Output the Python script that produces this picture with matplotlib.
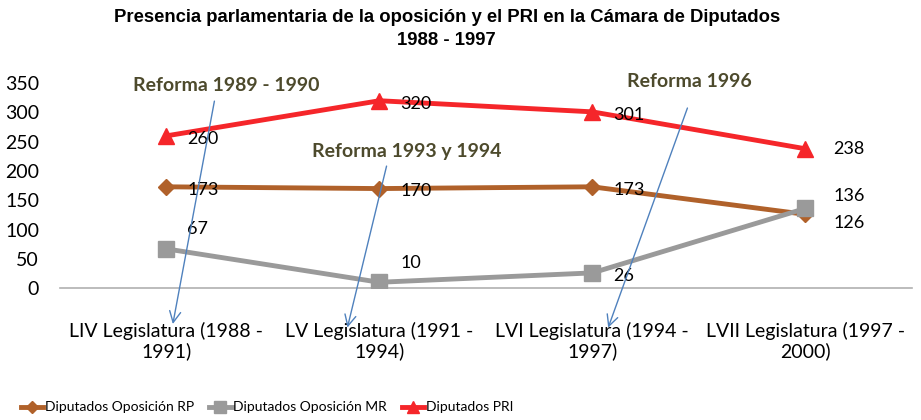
import matplotlib
matplotlib.use("Agg")
import matplotlib.pyplot as plt

categories = ["LIV Legislatura (1988 -\n1991)", "LV Legislatura (1991 -\n1994)",
              "LVI Legislatura (1994 -\n1997)", "LVII Legislatura (1997 -\n2000)"]
rp = [173, 170, 173, 126]
mr = [67, 10, 26, 136]
pri = [260, 320, 301, 238]
yticks = [0, 50, 100, 150, 200, 250, 300, 350]

plt.rcParams['font.family'] = ['Lato', 'DejaVu Sans']

fig = plt.figure(figsize=(9.21, 4.2), dpi=100)
ax = fig.add_axes([0.065, 0.314, 0.925, 0.488])
x = list(range(len(categories)))

c_rp = '#B0612A'
c_mr = '#9A9A9A'
c_pri = '#F5262A'
ax.plot(x, rp, color=c_rp, lw=3.5, marker='D', ms=8, label='Diputados Oposición RP', zorder=3)
ax.plot(x, mr, color=c_mr, lw=3.5, marker='s', ms=11, label='Diputados Oposición MR', zorder=3)
ax.plot(x, pri, color=c_pri, lw=3.5, marker='^', ms=11, label='Diputados PRI', zorder=3)

ax.set_xlim(-0.5, 3.5)
ax.set_ylim(0, 350)
ax.set_yticks(yticks)
ax.set_xticks(x)
ax.set_xticklabels(categories, fontsize=14, linespacing=1.2)
ax.tick_params(axis='y', length=0, labelsize=14, pad=15)
ax.tick_params(axis='x', length=0, pad=24)
for s in ['top', 'right', 'left']:
    ax.spines[s].set_visible(False)
ax.spines['bottom'].set_color('#B0B0B0')
ax.spines['bottom'].set_linewidth(1.2)

# data labels
lab_kw = dict(textcoords='offset points', fontsize=13, va='center', ha='left', zorder=4)
pri_off = [(15, -2), (15, -2), (15, -2), (20, 0)]
rp_off = [(15, -2), (15, -2), (15, -2), (20, -6)]
mr_off = [(15, 14), (15, 14), (15, -2), (20, 9)]
for i, v in enumerate(pri):
    ax.annotate(str(v), (i, v), xytext=pri_off[i], **lab_kw)
for i, v in enumerate(rp):
    ax.annotate(str(v), (i, v), xytext=rp_off[i], **lab_kw)
for i, v in enumerate(mr):
    ax.annotate(str(v), (i, v), xytext=mr_off[i], **lab_kw)

# reform annotations
reform_texts = ["Reforma 1989 - 1990", "Reforma 1993 y 1994", "Reforma 1996"]
text_pos = [(0.279, 346), (1.13, 234), (2.456, 352)]
arrow_start = [(0.228, 324), (1.037, 213), (2.451, 312)]
arrow_end = [(0.028, -66), (0.847, -72), (2.07, -72)]
for t, tp, a0, a1 in zip(reform_texts, text_pos, arrow_start, arrow_end):
    ax.text(tp[0], tp[1], t, ha='center', va='center', fontsize=14, fontweight='bold',
            color='#4D4A2C', zorder=6, clip_on=False)
    ax.annotate('', xy=a1, xytext=a0, annotation_clip=False,
                arrowprops=dict(arrowstyle='->,head_length=0.8,head_width=0.4',
                                color='#4F81BD', lw=1.0), zorder=6)

fig.text(0.485, 0.958, "Presencia parlamentaria de la oposición y el PRI en la Cámara de Diputados",
         ha='center', va='center', fontsize=13.3, fontweight='bold', family='Liberation Sans')
fig.text(0.485, 0.903, "1988 - 1997",
         ha='center', va='center', fontsize=13.3, fontweight='bold', family='Liberation Sans')

fig.legend(loc='center', bbox_to_anchor=(0.29, 0.03), ncol=3, frameon=False,
           prop={'size': 10}, handlelength=1.6, handletextpad=0.1,
           columnspacing=1.1, markerscale=0.75)

fig.savefig('out.png', dpi=100)
